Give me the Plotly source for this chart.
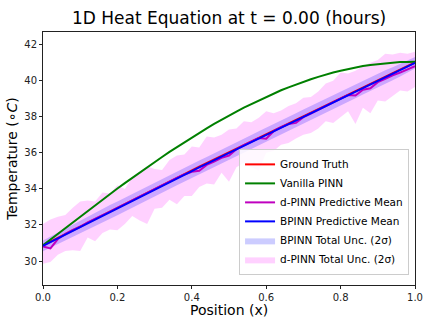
import plotly.graph_objects as go

# positions along the rod (0.02 steps)
position = [i / 50 for i in range(51)]

ground_truth = [
    30.87, 31.08, 31.29, 31.50, 31.71, 31.92, 32.13, 32.34, 32.55, 32.76,
    32.96, 33.17, 33.38, 33.59, 33.79, 34.00, 34.21, 34.41, 34.62, 34.82,
    35.03, 35.23, 35.43, 35.64, 35.84, 36.05, 36.25, 36.45, 36.65, 36.85,
    37.06, 37.26, 37.46, 37.66, 37.86, 38.06, 38.26, 38.46, 38.66, 38.86,
    39.05, 39.25, 39.45, 39.65, 39.84, 40.04, 40.24, 40.43, 40.63, 40.82,
    41.02,
]

vanilla_pinn = [
    30.87, 31.19, 31.51, 31.83, 32.15, 32.46, 32.78, 33.09, 33.40, 33.71,
    34.02, 34.32, 34.62, 34.91, 35.20, 35.49, 35.77, 36.05, 36.32, 36.59,
    36.85, 37.11, 37.36, 37.60, 37.84, 38.07, 38.29, 38.51, 38.71, 38.91,
    39.11, 39.29, 39.47, 39.63, 39.79, 39.94, 40.08, 40.21, 40.34, 40.45,
    40.55, 40.65, 40.73, 40.81, 40.87, 40.92, 40.97, 41.00, 41.03, 41.04,
    41.05,
]

dpinn_mean = [
    30.80, 30.70, 31.22, 31.50, 31.72, 31.90, 32.14, 32.33, 32.56, 32.74,
    32.95, 33.16, 33.38, 33.56, 33.78, 34.00, 34.19, 34.40, 34.61, 34.80,
    34.95, 35.00, 35.33, 35.52, 35.72, 35.85, 36.20, 36.42, 36.62, 36.82,
    36.78, 37.20, 37.42, 37.60, 37.66, 37.98, 38.18, 38.40, 38.60, 38.80,
    39.00, 39.20, 39.18, 39.50, 39.58, 39.92, 40.10, 40.30, 40.45, 40.62,
    40.80,
]

bpinn_mean = [
    30.84, 31.04, 31.25, 31.46, 31.67, 31.88, 32.09, 32.30, 32.51, 32.72,
    32.92, 33.13, 33.34, 33.55, 33.75, 33.96, 34.17, 34.37, 34.58, 34.78,
    34.99, 35.19, 35.39, 35.60, 35.80, 36.01, 36.21, 36.41, 36.61, 36.81,
    37.02, 37.22, 37.42, 37.62, 37.82, 38.02, 38.22, 38.42, 38.62, 38.82,
    39.01, 39.21, 39.41, 39.61, 39.80, 40.00, 40.20, 40.39, 40.59, 40.78,
    40.99,
]

bpinn_sigma = [
    0.15, 0.16, 0.17, 0.17, 0.18, 0.18, 0.19, 0.19, 0.19, 0.19,
    0.19, 0.19, 0.19, 0.19, 0.19, 0.19, 0.19, 0.19, 0.19, 0.19,
    0.19, 0.19, 0.19, 0.19, 0.19, 0.19, 0.19, 0.19, 0.19, 0.19,
    0.19, 0.19, 0.19, 0.19, 0.19, 0.19, 0.19, 0.19, 0.19, 0.19,
    0.19, 0.19, 0.19, 0.19, 0.19, 0.19, 0.19, 0.18, 0.18, 0.17,
    0.16,
]

dpinn_upper = [
    32.05, 32.30, 32.45, 32.55, 32.95, 33.30, 33.35, 33.30, 33.80, 33.75,
    34.20, 34.00, 34.65, 34.95, 35.25, 35.10, 35.05, 35.60, 35.85, 35.90,
    36.35, 36.30, 36.90, 36.85, 37.00, 37.30, 37.35, 37.75, 37.70, 37.95,
    38.30, 38.20, 38.35, 38.60, 38.75, 39.05, 39.10, 39.40, 39.85, 40.00,
    40.45, 40.40, 40.55, 40.80, 41.00, 41.15, 41.50, 41.45, 41.55, 41.50,
    41.60,
]

dpinn_lower = [
    29.85, 29.95, 30.35, 30.55, 30.60, 30.55, 31.30, 31.10, 31.55, 31.75,
    31.70, 32.05, 32.50, 32.25, 32.05, 32.90, 32.95, 33.40, 33.15, 33.60,
    33.60, 34.10, 34.30, 34.25, 34.90, 34.40, 35.20, 35.45, 35.20, 35.00,
    36.00, 36.10, 36.45, 36.55, 36.80, 37.00, 37.10, 37.35, 37.75, 37.65,
    38.00, 38.30, 37.60, 38.50, 38.20, 38.90, 38.85, 39.15, 39.45, 39.40,
    39.65,
]

bpinn_upper = [m + 2 * s for m, s in zip(bpinn_mean, bpinn_sigma)]
bpinn_lower = [m - 2 * s for m, s in zip(bpinn_mean, bpinn_sigma)]

band_x = position + position[::-1]

fig = go.Figure()

fig.add_trace(go.Scatter(
    x=band_x, y=dpinn_upper + dpinn_lower[::-1],
    fill="toself", fillcolor="rgba(255,0,255,0.18)",
    line=dict(width=0), mode="lines",
    name="d-PINN Total Unc. (2σ)", legendrank=6,
))
fig.add_trace(go.Scatter(
    x=band_x, y=bpinn_upper + bpinn_lower[::-1],
    fill="toself", fillcolor="rgba(0,0,255,0.2)",
    line=dict(width=0), mode="lines",
    name="BPINN Total Unc. (2σ)", legendrank=5,
))

lines = [
    ("Ground Truth", ground_truth, "#ff0000"),
    ("Vanilla PINN", vanilla_pinn, "#008000"),
    ("d-PINN Predictive Mean", dpinn_mean, "#bf00bf"),
    ("BPINN Predictive Mean", bpinn_mean, "#0000ff"),
]
for rank, (name, values, color) in enumerate(lines, start=1):
    fig.add_trace(go.Scatter(
        x=position, y=values, mode="lines",
        line=dict(color=color, width=2),
        name=name, legendrank=rank,
    ))

axis_style = dict(
    showgrid=False, zeroline=False, automargin=False,
    showline=True, linecolor="#222", linewidth=1, mirror=True,
    ticks="outside", ticklen=3, tickcolor="#222",
    tickfont=dict(size=10, color="#222"),
)

fig.update_layout(
    width=429,
    height=326,
    margin=dict(l=43, r=14, t=32, b=41),
    plot_bgcolor="white",
    paper_bgcolor="white",
    font=dict(family="DejaVu Sans", color="black"),
    title=dict(
        text="1D Heat Equation at t = 0.00 (hours)",
        x=0.534, xanchor="center", y=0.945, yanchor="middle",
        font=dict(size=17),
    ),
    xaxis=dict(axis_style, range=[0, 1], dtick=0.2, tickformat=".1f"),
    yaxis=dict(
        axis_style, range=[28.67, 42.7], tickvals=[30, 32, 34, 36, 38, 40, 42],
        title=dict(text="Temperature (∘<i>C</i>)", font=dict(size=14), standoff=3),
    ),
    legend=dict(
        x=0.984, xanchor="right", y=0.04, yanchor="bottom",
        bgcolor="rgba(255,255,255,0.85)",
        bordercolor="#cccccc", borderwidth=1,
        font=dict(size=10.5), tracegroupgap=0,
        itemwidth=30,
    ),
)

# x-axis title placed by hand so it sits close under the tick labels
fig.add_annotation(
    text="Position (x)", xref="paper", yref="paper",
    x=0.5, y=-0.097, xanchor="center", yanchor="middle",
    showarrow=False, font=dict(size=14),
)

fig.write_html(
    "out.html",
    config={"displayModeBar": False},
    post_script="document.body.style.margin = '0';",
)
